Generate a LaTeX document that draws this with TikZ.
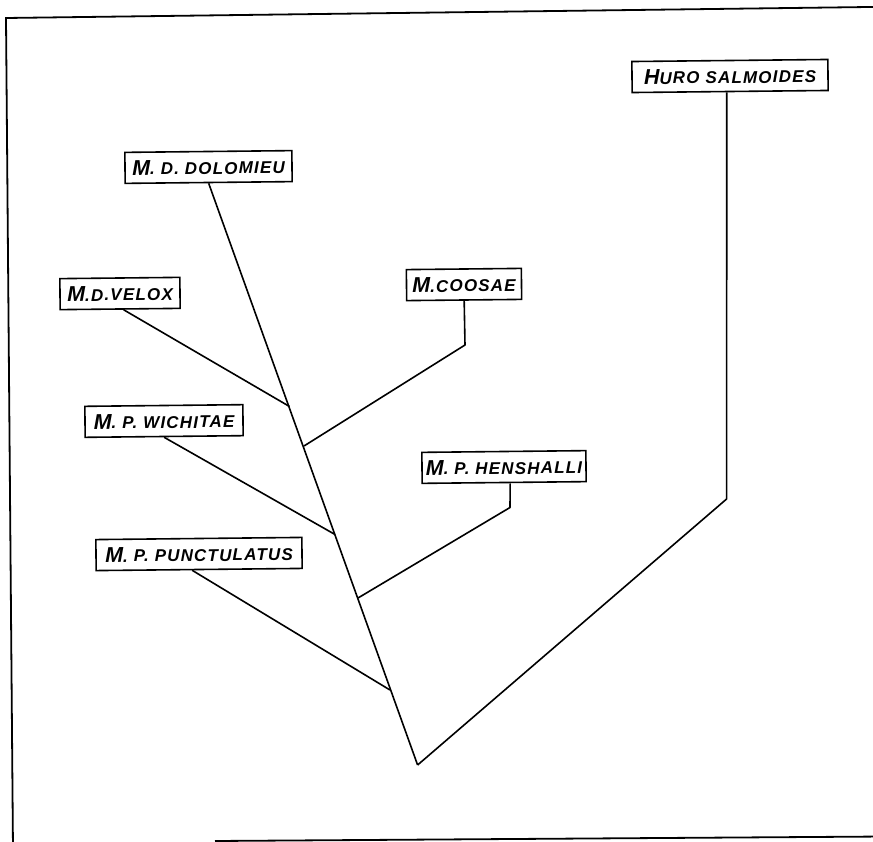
\documentclass[tikz,border=0pt]{standalone}
\usepackage{fontspec}
\setmainfont{Liberation Sans}
\newfontfamily\labfont[LetterSpace=7]{Liberation Sans}
\newcommand\capL[1]{{\fontsize{21.5}{21.5}\selectfont #1}}
\newcommand\capS[1]{{\fontsize{17}{17}\selectfont #1}}
\tikzset{
  taxon/.style={draw, line width=1.6pt, inner sep=0pt, minimum height=31pt,
    font=\labfont\bfseries\itshape, rotate=0.6, anchor=center},
  branch/.style={line width=1.6pt, line join=round},
}
\begin{document}
\begin{tikzpicture}[x=1pt,y=-1pt]
\useasboundingbox (0,0) rectangle (873,842);
\clip (0,0) rectangle (873,842);
\fill[white] (0,0) rectangle (873,842);
% frame (scan slightly rotated)
\draw[line width=1.8pt] (885,6.8) -- (6,18) -- (13,850) ;
\draw[line width=1.8pt] (215,841) -- (885,836.5);

% labels
\node[taxon, minimum width=196pt] (huro) at (730,76) {\capL{H}\capS{URO SALMOIDES}};
\node[taxon, minimum width=167pt] (dolo) at (208.5,167) {\capL{M}\capS{. D. DOLOMIEU}};
\node[taxon, minimum width=120pt] (velox) at (120,293.5) {\capL{M}\capS{.D.VELOX}};
\node[taxon, minimum width=115pt] (coosae) at (464,284.5) {\capL{M}\capS{.COOSAE}};
\node[taxon, minimum width=158pt] (wich) at (164,421) {\capL{M}\capS{. P. WICHITAE}};
\node[taxon, minimum width=164pt] (hensh) at (504,467) {\capL{M}\capS{. P. HENSHALLI}};
\node[taxon, minimum width=206pt] (punct) at (199,554) {\capL{M}\capS{. P. PUNCTULATUS}};

% junctions
\coordinate (root) at (417.6,765);
\coordinate (jvel) at (289.5,406.5);
\coordinate (jcoo) at (304,446);
\coordinate (jwic) at (335,534.5);
\coordinate (jhen) at (358,598);
\coordinate (jpun) at (390,690);
\coordinate (bcoo) at (465,345);
\coordinate (bhen) at (510,507.5);
\coordinate (bhur) at (726.6,499);

\draw[branch] (dolo.south) -- (root);
\draw[branch] ([xshift=-3.4pt]huro.south) -- (bhur) -- (root);
\draw[branch] ([xshift=3.5pt]velox.south) -- (jvel);
\draw[branch] (coosae.south) -- (bcoo) -- (jcoo);
\draw[branch] (wich.south) -- (jwic);
\draw[branch] ([xshift=6pt]hensh.south) -- (bhen) -- (jhen);
\draw[branch] ([xshift=-7pt]punct.south) -- (jpun);
\end{tikzpicture}
\end{document}
